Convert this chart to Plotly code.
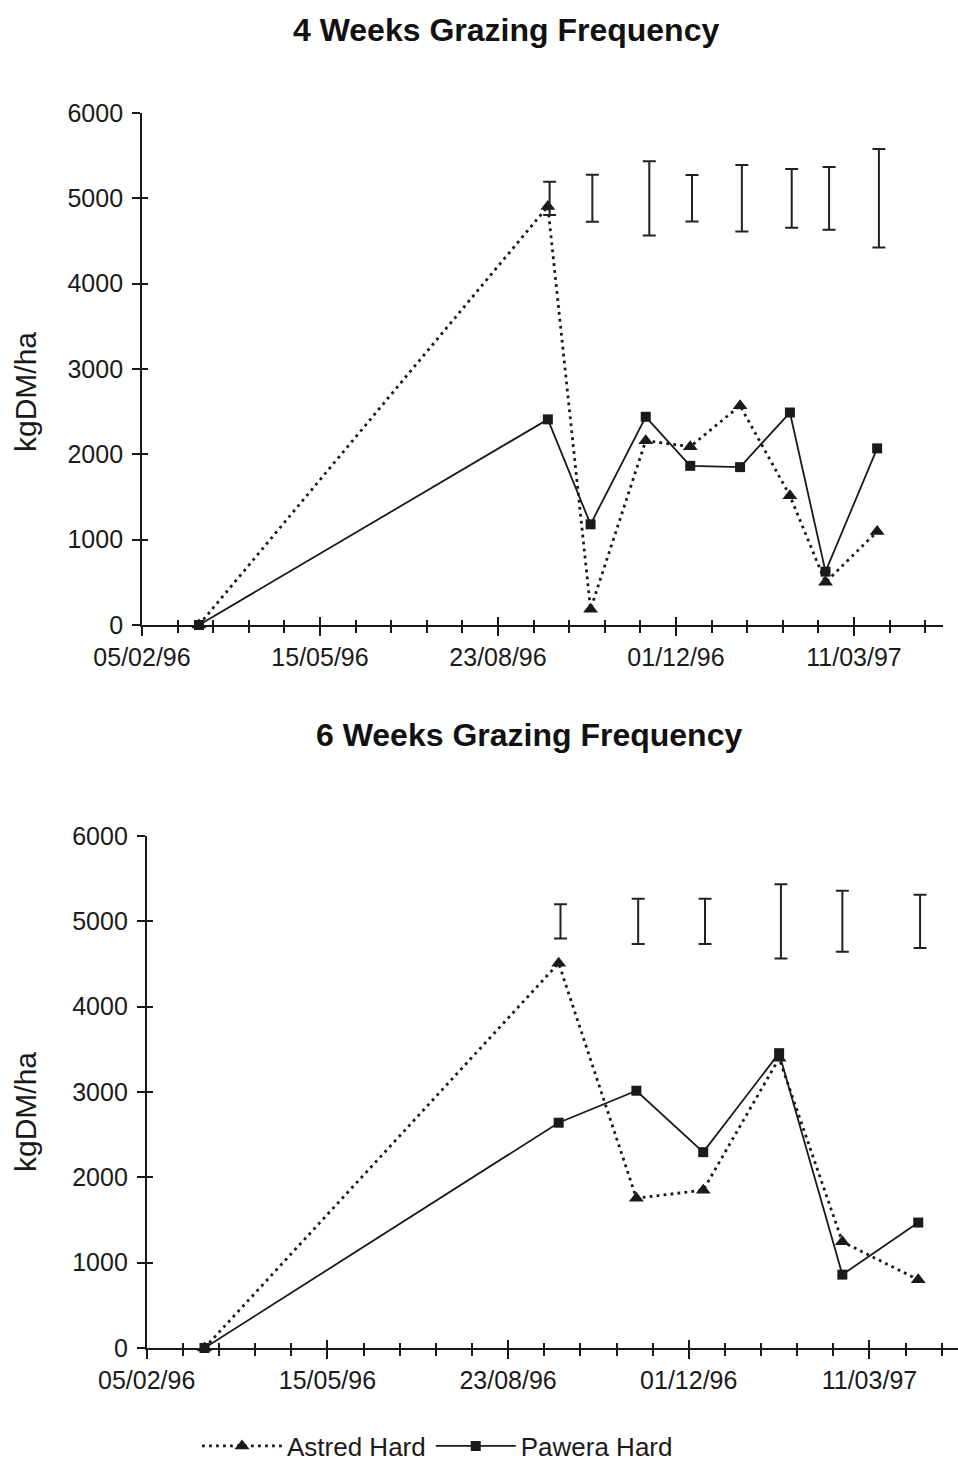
import plotly.graph_objects as go

# ---------------- data ----------------
# 4 weeks grazing frequency
dates_4w = ["1996-03-08", "1996-09-20", "1996-10-14", "1996-11-14", "1996-12-09",
            "1997-01-06", "1997-02-03", "1997-02-23", "1997-03-24"]
astred_4w = [0, 4905, 185, 2160, 2090, 2570, 1515, 500, 1095]
pawera_4w = [0, 2410, 1180, 2440, 1865, 1850, 2490, 625, 2070]
lsd_dates_4w = ["1996-09-21", "1996-10-15", "1996-11-16", "1996-12-10",
                "1997-01-07", "1997-02-04", "1997-02-25", "1997-03-25"]
lsd_4w = [390, 550, 870, 545, 780, 690, 735, 1155]

# 6 weeks grazing frequency
dates_6w = ["1996-03-08", "1996-09-20", "1996-11-02", "1996-12-09",
            "1997-01-20", "1997-02-24", "1997-04-07"]
astred_6w = [0, 4510, 1755, 1850, 3395, 1245, 800]
pawera_6w = [0, 2640, 3015, 2295, 3455, 860, 1470]
lsd_dates_6w = ["1996-09-21", "1996-11-03", "1996-12-10", "1997-01-21",
                "1997-02-24", "1997-04-08"]
lsd_6w = [400, 530, 530, 870, 715, 625]
lsd_centre = 5000

titles = ["4 Weeks Grazing Frequency", "6 Weeks Grazing Frequency"]
y_title = "kgDM/ha"
series_names = ["Astred Hard", "Pawera Hard"]

# ---------------- figure ----------------
W, H = 958, 1461
INK = "#1a1a1a"
FONT = "Liberation Sans, Arial, sans-serif"
DAY = 86400000

fig = go.Figure()


def add_panel(n, dates, astred, pawera, lsd_dates, lsd, showlegend):
    xa = "x" if n == 1 else f"x{n}"
    ya = "y" if n == 1 else f"y{n}"
    xo = f"x{n + 2}"
    yo = f"y{n + 2}"
    fig.add_trace(go.Scatter(
        x=dates, y=astred, name=series_names[0], mode="lines+markers",
        line=dict(color=INK, width=2.8, dash="2.8px,4.2px"),
        marker=dict(symbol="triangle-up", size=13, color=INK),
        cliponaxis=False, showlegend=showlegend, legendrank=1,
        xaxis=xa, yaxis=ya))
    fig.add_trace(go.Scatter(
        x=dates, y=pawera, name=series_names[1], mode="lines+markers",
        line=dict(color=INK, width=1.8),
        marker=dict(symbol="square", size=10, color=INK),
        cliponaxis=False, showlegend=showlegend, legendrank=2,
        xaxis=xa, yaxis=ya))
    fig.add_trace(go.Scatter(
        x=lsd_dates, y=[lsd_centre] * len(lsd), mode="markers",
        marker=dict(size=1, color="rgba(0,0,0,0)"),
        error_y=dict(type="data", array=[v / 2 for v in lsd], symmetric=True,
                     color="#222222", thickness=2, width=6.5),
        showlegend=False, hoverinfo="skip", xaxis=xo, yaxis=yo))


add_panel(1, dates_4w, astred_4w, pawera_4w, lsd_dates_4w, lsd_4w, True)
add_panel(2, dates_6w, astred_6w, pawera_6w, lsd_dates_6w, lsd_6w, False)

# panel geometry (pixels)
panels = {
    1: dict(x0=142, x1=943, y0=113, y1=625, end="1997-04-30"),
    2: dict(x0=146.7, x1=958, y0=836, y1=1348, end="1997-04-29"),
}

for n, p in panels.items():
    xdom = [p["x0"] / W, p["x1"] / W]
    ydom = [1 - p["y1"] / H, 1 - p["y0"] / H]
    xr = ["1996-02-05", p["end"]]
    base_x = dict(
        type="date", domain=xdom, range=xr, tick0="1996-02-05", dtick=100 * DAY,
        tickformat="%d/%m/%y", showgrid=False, zeroline=False, automargin=False,
        tickfont=dict(family=FONT, size=25, color=INK),
    )
    base_y = dict(domain=ydom, range=[0, 6000], dtick=1000, showgrid=False,
                  zeroline=False, automargin=False,
                  tickfont=dict(family=FONT, size=25, color=INK))
    xa = "xaxis" if n == 1 else f"xaxis{n}"
    ya = "yaxis" if n == 1 else f"yaxis{n}"
    xname = "y" if n == 1 else f"y{n}"
    yname = "x" if n == 1 else f"x{n}"
    fig.layout[xa] = dict(
        **base_x, anchor=xname, showline=True, linecolor=INK, linewidth=1.8,
        ticks="outside", ticklen=9, tickwidth=1.6, tickcolor=INK,
        ticklabelstandoff=0,
        minor=dict(dtick=20 * DAY, tick0="1996-02-05", ticks="outside",
                   ticklen=6, tickwidth=1.6, tickcolor=INK, showgrid=False),
    )
    fig.layout[ya] = dict(
        **base_y, anchor=yname, showline=True, linecolor=INK, linewidth=1.8,
        ticks="outside", ticklen=8, tickwidth=1.6, tickcolor=INK,
        ticklabelstandoff=4,
    )
    # overlay axes for the inner half of the crossing ticks
    fig.layout[f"xaxis{n + 2}"] = dict(
        **base_x, anchor=f"y{n + 2}", overlaying=yname, showline=False,
        showticklabels=False, ticks="inside", ticklen=8, tickwidth=1.6,
        tickcolor=INK,
        minor=dict(dtick=20 * DAY, tick0="1996-02-05", ticks="inside",
                   ticklen=5, tickwidth=1.6, tickcolor=INK, showgrid=False),
    )
    fig.layout[f"yaxis{n + 2}"] = dict(
        **base_y, anchor=f"x{n + 2}", overlaying=xname, showline=False,
        showticklabels=False, ticks="inside", ticklen=6, tickwidth=1.6,
        tickcolor=INK,
    )

# titles
fig.add_annotation(text=f"<b>{titles[0]}</b>", x=506 / W, y=1 - 30 / H,
                   xref="paper", yref="paper", showarrow=False,
                   xanchor="center", yanchor="middle",
                   font=dict(family=FONT, size=32, color="#111"))
fig.add_annotation(text=f"<b>{titles[1]}</b>", x=529 / W, y=1 - 735 / H,
                   xref="paper", yref="paper", showarrow=False,
                   xanchor="center", yanchor="middle",
                   font=dict(family=FONT, size=32, color="#111"))
# y-axis titles
for yc in (392, 1112):
    fig.add_annotation(text=y_title, x=25 / W, y=1 - yc / H, xref="paper",
                       yref="paper", showarrow=False, textangle=-90,
                       xanchor="center", yanchor="middle",
                       font=dict(family=FONT, size=30, color=INK))

fig.update_layout(
    width=W, height=H,
    margin=dict(l=0, r=0, t=0, b=0, pad=0, autoexpand=False),
    paper_bgcolor="white", plot_bgcolor="white",
    showlegend=True,
    legend=dict(orientation="h", x=197 / W, y=1 - 1446 / H,
                xanchor="left", yanchor="middle", itemwidth=80,
                font=dict(family=FONT, size=26, color=INK),
                bgcolor="rgba(0,0,0,0)", traceorder="normal"),
)

fig.write_html("out.html")
